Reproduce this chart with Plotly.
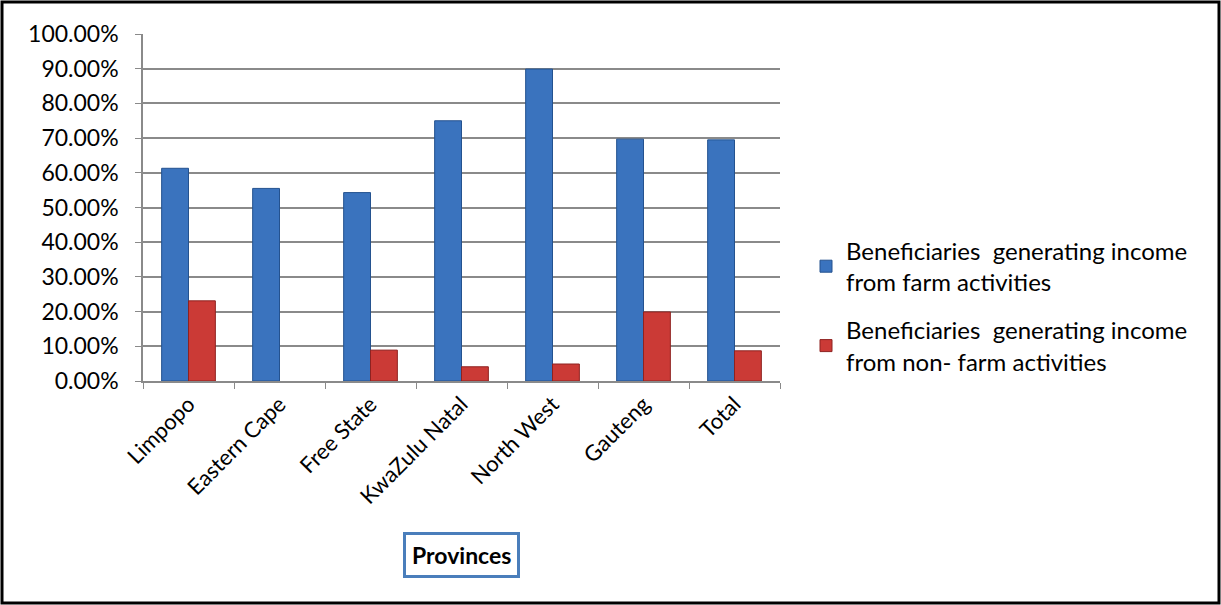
import plotly.graph_objects as go

provinces = ["Limpopo", "Eastern Cape", "Free State", "KwaZulu Natal", "North West", "Gauteng", "Total"]
farm = [0.613, 0.555, 0.543, 0.750, 0.899, 0.697, 0.695]
nonfarm = [0.231, 0.0, 0.089, 0.041, 0.049, 0.199, 0.087]
series_names = ["Beneficiaries  generating income<br>from farm activities",
                "Beneficiaries  generating income<br>from non- farm activities"]
y_ticks = [i / 10 for i in range(11)]

W, H = 1221, 605
L, R, T, B = 143, 441, 34, 224
pw, ph = W - L - R, H - T - B

def px(x):
    return (x - L) / pw

def py(y):
    return (H - B - y) / ph

font = "Lato, 'Open Sans', sans-serif"

def lw(vals):
    return [1 if v > 0 else 0 for v in vals]

fig = go.Figure()
fig.add_trace(go.Bar(x=provinces, y=farm, name=series_names[0], legendgroup="farm",
                     marker=dict(color="#3A73BE", line=dict(color="#24528F", width=lw(farm)))))
fig.add_trace(go.Bar(x=provinces, y=nonfarm, name=series_names[1], legendgroup="nonfarm",
                     marker=dict(color="#CB3A36", line=dict(color="#8E2220", width=lw(nonfarm)))))

fig.update_layout(
    width=W, height=H,
    margin=dict(l=L, r=R, t=T, b=B),
    paper_bgcolor="white", plot_bgcolor="white",
    barmode="group", bargap=0.41, bargroupgap=0,
    font=dict(family=font, size=23, color="black"),
    legend=dict(x=px(806), y=py(306), xanchor="left", yanchor="middle",
                font=dict(size=24), tracegroupgap=14, itemwidth=30),
    showlegend=True,
)
fig.update_yaxes(range=[0, 1], tickvals=y_ticks, tickformat=".2%",
                 showgrid=True, gridcolor="#8a8a8a", gridwidth=1.5,
                 showline=True, linecolor="#8a8a8a", linewidth=1.5,
                 ticks="outside", ticklen=6, tickcolor="#8a8a8a",
                 ticklabelstandoff=12,
                 tickfont=dict(size=23), zeroline=False, fixedrange=True)
fig.update_xaxes(showline=True, linecolor="#8a8a8a", linewidth=1.5,
                 tickson="boundaries", ticks="outside", ticklen=6, tickcolor="#8a8a8a",
                 tickangle=-45, tickfont=dict(size=22), fixedrange=True)

# outer frame
fig.add_shape(type="rect", xref="paper", yref="paper",
              x0=px(2), x1=px(1219), y0=py(603), y1=py(2),
              line=dict(color="black", width=3), layer="above")

fig.add_annotation(text="<b>Provinces</b>", xref="paper", yref="paper",
                   x=px(461), y=py(555), xanchor="center", yanchor="middle",
                   showarrow=False, font=dict(size=23, color="black"),
                   bordercolor="#4A7EBB", borderwidth=3, borderpad=6, bgcolor="white")

fig.write_html("out.html")
